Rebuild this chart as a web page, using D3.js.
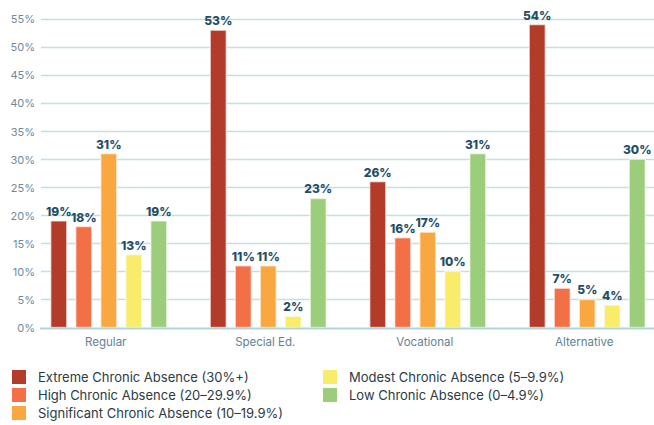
<!DOCTYPE html>
<html>
<head>
<meta charset="utf-8">
<script src="https://cdn.jsdelivr.net/npm/d3@7/dist/d3.min.js"></script>
<style>
  html, body { margin: 0; padding: 0; background: #fff; }
  svg { display: block; }
</style>
</head>
<body>
<svg id="chart" width="654" height="425"></svg>
<script>
// School types along the x axis
const schoolTypes = ["Regular", "Special Ed.", "Vocational", "Alternative"];

// Absence levels (one bar per level in each school type)
const levels = [
  "Extreme Chronic Absence (30%+)",
  "High Chronic Absence (20–29.9%)",
  "Significant Chronic Absence (10–19.9%)",
  "Modest Chronic Absence (5–9.9%)",
  "Low Chronic Absence (0–4.9%)"
];

// Share of students (%) per level, in school-type order
const extreme     = [19, 53, 26, 54];
const high        = [18, 11, 16, 7];
const significant = [31, 11, 17, 5];
const modest      = [13, 2, 10, 4];
const low         = [19, 23, 31, 30];

const yTicks = [0, 5, 10, 15, 20, 25, 30, 35, 40, 45, 50, 55];

const colors = ["#b33b29", "#f36f46", "#f9a841", "#f9ec6b", "#9ccd7b"];

const seriesValues = [extreme, high, significant, modest, low];

const svg = d3.select("#chart");

const y = d3.scaleLinear().domain([0, 55]).range([327.5, 19]);

const x0 = d3.scaleBand().domain(schoolTypes).range([29, 667]).paddingInner(0).paddingOuter(0);
const x1 = d3.scaleBand().domain(levels).range([-62.5, 62.5]).paddingInner(0.36).paddingOuter(0.18);

// Horizontal grid
const grid = svg.append("g");
grid.selectAll("line").data(yTicks.filter(d => d > 0)).join("line")
  .attr("x1", 41).attr("x2", 654)
  .attr("y1", d => Math.round(y(d)) + 0.5).attr("y2", d => Math.round(y(d)) + 0.5)
  .attr("stroke", "#bfe0e6").attr("stroke-width", 1.3);

// Y tick labels
const yAxis = d3.axisLeft(y).tickValues(yTicks).tickFormat(d => d + "%").tickSize(0).tickPadding(0);
const yg = svg.append("g").attr("transform", "translate(35,0)").call(yAxis);
yg.select(".domain").remove();
yg.selectAll("text")
  .attr("fill", "#6f8a9b")
  .style("font-family", "Inter, 'DejaVu Sans', sans-serif")
  .style("font-size", "11px")
  .attr("dy", "0.35em");

// Bars
const groups = svg.append("g").selectAll("g").data(schoolTypes).join("g")
  .attr("transform", d => `translate(${x0(d) + x0.bandwidth() / 2},0)`);

groups.each(function (type, gi) {
  const g = d3.select(this);
  const data = levels.map((lv, li) => ({ level: lv, li, value: seriesValues[li][gi] }));
  g.selectAll("rect").data(data).join("rect")
    .attr("x", d => x1(d.level))
    .attr("width", x1.bandwidth())
    .attr("y", d => y(d.value))
    .attr("height", d => y(0) - y(d.value))
    .attr("fill", d => colors[d.li])
    .attr("stroke", "#ffffff")
    .attr("stroke-opacity", 0.55)
    .attr("stroke-width", 1.5);
  g.selectAll("text").data(data).join("text")
    .attr("x", d => x1(d.level) + x1.bandwidth() / 2)
    .attr("y", d => y(d.value) - 5)
    .attr("text-anchor", "middle")
    .attr("fill", "#1f4f67")
    .style("font-family", "Inter, 'DejaVu Sans', sans-serif")
    .style("font-weight", "800")
    .style("font-size", "12px")
    .text(d => d.value + "%");
});

// Baseline
svg.append("line")
  .attr("x1", 40).attr("x2", 654)
  .attr("y1", y(0) + 1).attr("y2", y(0) + 1)
  .attr("stroke", "#aed7de").attr("stroke-width", 2);

// Category labels
const xAxis = d3.axisBottom(x0).tickSize(0).tickPadding(0);
const xg = svg.append("g").attr("transform", "translate(-3,338)").call(xAxis);
xg.select(".domain").remove();
xg.selectAll("text")
  .attr("fill", "#5f8297")
  .attr("dy", "0.71em")
  .style("font-family", "Inter, 'DejaVu Sans', sans-serif")
  .style("font-size", "11.5px");

// Legend
const legendPos = [
  [12, 377], [12, 395], [12, 413], [323, 377], [323, 395]
];
const legend = svg.append("g").selectAll("g").data(levels).join("g")
  .attr("transform", (d, i) => `translate(${legendPos[i][0]},${legendPos[i][1]})`);
legend.append("rect")
  .attr("x", 0).attr("y", -7).attr("width", 14).attr("height", 14)
  .attr("fill", (d, i) => colors[i]);
legend.append("text")
  .attr("x", 26).attr("y", 0).attr("dy", "0.35em")
  .attr("fill", "#2c3a45")
  .style("font-family", "Inter, 'DejaVu Sans', sans-serif")
  .style("font-size", "13px")
  .text(d => d);
</script>
</body>
</html>
